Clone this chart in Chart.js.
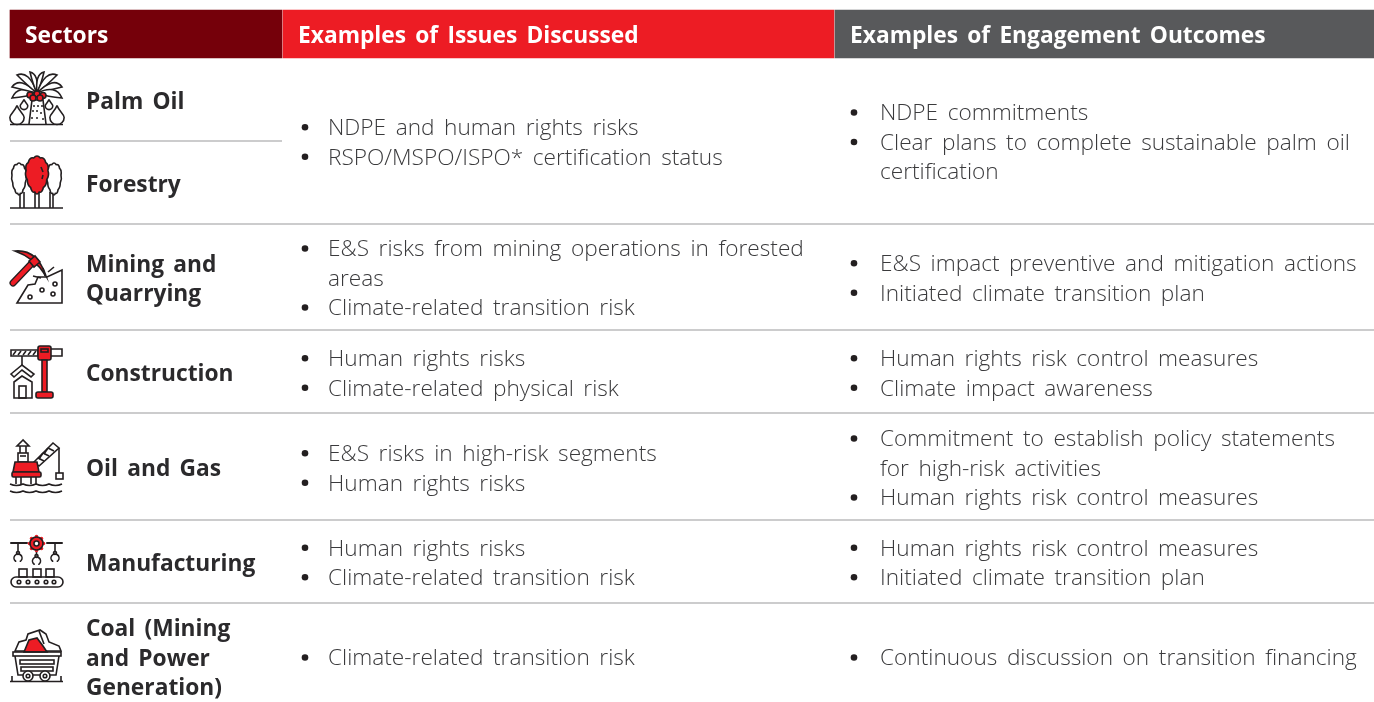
<!DOCTYPE html>
<html>
<head>
<meta charset="utf-8">
<style>
  html, body { margin: 0; padding: 0; background: #fff; }
  #tableChart { display: block; }
</style>
<script src="https://cdn.jsdelivr.net/npm/chart.js@4"></script>
</head>
<body>
<canvas id="tableChart" width="1374" height="702"></canvas>
<script>
// Table content
const headers = ['Sectors', 'Examples of Issues Discussed', 'Examples of Engagement Outcomes'];
const sectors = ['Palm Oil', 'Forestry', 'Mining and\nQuarrying', 'Construction', 'Oil and Gas', 'Manufacturing', 'Coal (Mining\nand Power\nGeneration)'];
const issues = [
  ['NDPE and human rights risks', 'RSPO/MSPO/ISPO* certification status'],
  ['E&S risks from mining operations in forested\nareas', 'Climate-related transition risk'],
  ['Human rights risks', 'Climate-related physical risk'],
  ['E&S risks in high-risk segments', 'Human rights risks'],
  ['Human rights risks', 'Climate-related transition risk'],
  ['Climate-related transition risk']
];
const outcomes = [
  ['NDPE commitments', 'Clear plans to complete sustainable palm oil\ncertification'],
  ['E&S impact preventive and mitigation actions', 'Initiated climate transition plan'],
  ['Human rights risk control measures', 'Climate impact awareness'],
  ['Commitment to establish policy statements\nfor high-risk activities', 'Human rights risk control measures'],
  ['Human rights risk control measures', 'Initiated climate transition plan'],
  ['Continuous discussion on transition financing']
];

// Layout of the table, in page pixels
const columnEdges = [10, 282, 834, 1374];
const headerBand = [10, 58];
const headerColors = ['#75000A', '#ED1C24', '#58595B'];
const ruleRows = [224, 330, 413, 520, 603];
const palmRule = 141;
const sectorCentres = [100, 183, 277.5, 372, 467, 562, 657];
const rowCentres = [141.5, 277.5, 372.5, 467.5, 562, 657];
const lineStep = 29.5;
const ink = '#231F20';
const red = '#ED1C24';

function pathOf(ctx, pts, close) {
  ctx.beginPath();
  pts.forEach((p, i) => i ? ctx.lineTo(p[0], p[1]) : ctx.moveTo(p[0], p[1]));
  if (close) ctx.closePath();
}
function disc(ctx, x, y, r, fill) {
  ctx.beginPath();
  ctx.arc(x, y, r, 0, Math.PI * 2);
  if (fill) { ctx.fillStyle = fill; ctx.fill(); }
  ctx.stroke();
}
function seg(ctx, x1, y1, x2, y2) {
  ctx.beginPath();
  ctx.moveTo(x1, y1);
  ctx.lineTo(x2, y2);
  ctx.stroke();
}
function drop(ctx, x, y, h) {
  const w = h * 0.42;
  ctx.beginPath();
  ctx.moveTo(x, y - h / 2);
  ctx.bezierCurveTo(x + w * 0.3, y - h * 0.15, x + w, y, x + w, y + h * 0.2);
  ctx.arc(x, y + h * 0.2, w, 0, Math.PI);
  ctx.bezierCurveTo(x - w, y, x - w * 0.3, y - h * 0.15, x, y - h / 2);
  ctx.fillStyle = '#fff';
  ctx.fill();
  ctx.stroke();
}
function crown(ctx, cx, top, bottom, halfW, fill) {
  // scalloped tree crown, wider towards the bottom
  const cy = (top + bottom) / 2;
  const halfH = (bottom - top) / 2;
  const bumps = 12;
  const at = (a, k) => {
    const widen = 0.82 + 0.18 * Math.cos(a);
    return [cx + Math.sin(a) * halfW * widen * k, cy - Math.cos(a) * halfH * k];
  };
  ctx.beginPath();
  for (let i = 0; i <= bumps; i++) {
    const a = i * Math.PI * 2 / bumps + Math.PI / bumps;
    const p = at(a, 0.93);
    if (i === 0) {
      ctx.moveTo(p[0], p[1]);
    } else {
      const c = at(a - Math.PI / bumps, 1.1);
      ctx.quadraticCurveTo(c[0], c[1], p[0], p[1]);
    }
  }
  ctx.closePath();
  ctx.fillStyle = fill;
  ctx.fill();
  ctx.stroke();
}

// Sector icons, drawn in page pixels
const iconDrawers = [
  function palm(ctx) {
    // tip x, tip y, upper control x, y, lower control x, y
    const leaves = [
      [12, 98, 18, 84, 26, 97], [12, 87, 20, 76, 24, 90], [17, 75, 29, 70, 28, 86],
      [30, 72, 39, 74, 33, 85], [44, 72, 35, 74, 41, 85], [57, 75, 45, 70, 46, 86],
      [62, 87, 54, 76, 50, 90], [62, 98, 56, 84, 48, 97]
    ];
    leaves.forEach(l => {
      ctx.beginPath();
      ctx.moveTo(37, 93);
      ctx.quadraticCurveTo(l[2], l[3], l[0], l[1]);
      ctx.quadraticCurveTo(l[4], l[5], 37, 93);
      ctx.closePath();
      ctx.fillStyle = '#fff';
      ctx.fill();
      ctx.stroke();
    });
    pathOf(ctx, [[29, 124], [32, 100], [43, 100], [46, 124]]);
    ctx.fillStyle = '#fff';
    ctx.fill();
    ctx.stroke();
    [[33, 106], [37, 106], [41, 106], [32, 111], [36, 111], [40, 113], [31, 118], [36, 118], [42, 119]].forEach(d => seg(ctx, d[0], d[1], d[0] + 2, d[1]));
    [[30, 95], [37, 94], [43, 95.5], [33, 98], [40, 98]].forEach(f => disc(ctx, f[0], f[1], 3, red));
    drop(ctx, 17, 114, 17);
    drop(ctx, 57, 114, 17);
    drop(ctx, 24, 104, 9);
    drop(ctx, 49, 104, 9);
    seg(ctx, 10, 124.5, 63, 124.5);
  },
  function forest(ctx) {
    [[20, 24], [35, 39], [50, 53]].forEach(t => {
      seg(ctx, t[0], 192, t[0], 208);
      seg(ctx, t[1], 192, t[1], 208);
    });
    crown(ctx, 19, 163, 195, 9, '#fff');
    crown(ctx, 54, 163, 195, 9, '#fff');
    crown(ctx, 37, 156, 194, 14, red);
    seg(ctx, 41, 167, 43, 172);
    seg(ctx, 43, 175, 42, 179);
    seg(ctx, 10, 208, 63, 208);
  },
  function pickaxe(ctx) {
    pathOf(ctx, [[17, 303], [28, 285], [35, 284], [38, 277], [47, 277], [62, 270], [62, 303]], true);
    ctx.stroke();
    [[30, 297], [42, 290], [53, 294], [55, 284]].forEach(c => disc(ctx, c[0], c[1], 2));
    seg(ctx, 33, 276, 41, 278);
    seg(ctx, 43, 268, 45, 276);
    seg(ctx, 48, 272, 54, 267);
    // handle and head
    ctx.lineCap = 'round';
    ctx.lineWidth = 7;
    seg(ctx, 13, 283, 34, 261);
    ctx.strokeStyle = red;
    ctx.lineWidth = 4.5;
    seg(ctx, 13, 283, 34, 261);
    ctx.lineCap = 'butt';
    ctx.strokeStyle = ink;
    ctx.lineWidth = 1.6;
    ctx.beginPath();
    ctx.moveTo(15, 251);
    ctx.quadraticCurveTo(37, 249, 46, 276);
    ctx.quadraticCurveTo(35, 258, 15, 251);
    ctx.closePath();
    ctx.fillStyle = red;
    ctx.fill();
    ctx.stroke();
    pathOf(ctx, [[29, 261], [35, 256], [40, 262], [34, 267]], true);
    ctx.fill();
    ctx.stroke();
  },
  function crane(ctx) {
    ctx.beginPath();
    ctx.rect(11, 350, 27, 6);
    ctx.rect(50, 349, 12, 7);
    ctx.stroke();
    for (let i = 13; i < 36; i += 5) seg(ctx, i, 355, i + 3, 351);
    ctx.fillStyle = red;
    ctx.beginPath();
    ctx.roundRect(38, 346, 13, 14, 2);
    ctx.fill();
    ctx.stroke();
    ctx.strokeRect(41, 349, 7, 3);
    ctx.beginPath();
    ctx.rect(42, 360, 5, 32);
    ctx.fill();
    ctx.stroke();
    ctx.beginPath();
    ctx.roundRect(36, 392, 17, 6, 2);
    ctx.fill();
    ctx.stroke();
    seg(ctx, 22, 356, 22, 365);
    pathOf(ctx, [[11, 374], [22, 365], [34, 374], [31, 377], [22, 370], [14, 377]], true);
    ctx.stroke();
    pathOf(ctx, [[14, 382], [22, 376], [32, 382], [32, 398], [14, 398]], true);
    ctx.stroke();
    ctx.strokeRect(19, 386, 7, 12);
  },
  function oilRig(ctx) {
    // boom
    pathOf(ctx, [[34, 462], [53, 443], [59, 448], [39, 466]], true);
    ctx.stroke();
    seg(ctx, 38, 458, 44, 461);
    seg(ctx, 43, 453, 49, 456);
    seg(ctx, 48, 448, 54, 451);
    seg(ctx, 39, 459, 43, 453);
    seg(ctx, 44, 454, 48, 448);
    seg(ctx, 59, 448, 59, 473);
    ctx.strokeRect(56, 473, 7, 6);
    // derrick
    pathOf(ctx, [[23, 440], [17, 446], [29, 446]], true);
    ctx.stroke();
    seg(ctx, 20, 446, 20, 453);
    seg(ctx, 26, 446, 26, 453);
    ctx.strokeRect(18, 453, 10, 9);
    seg(ctx, 20, 456, 26, 456);
    // platform
    pathOf(ctx, [[15, 462], [37, 462], [39, 472], [13, 472]], true);
    ctx.fillStyle = red;
    ctx.fill();
    ctx.stroke();
    ctx.beginPath();
    ctx.roundRect(12, 472, 29, 5, 1.5);
    ctx.fill();
    ctx.stroke();
    [16, 21, 31, 36].forEach(x => seg(ctx, x, 477, x, 484));
    [484, 491].forEach(y => {
      ctx.beginPath();
      ctx.moveTo(10, y);
      for (let i = 10; i < 62; i += 13) ctx.quadraticCurveTo(i + 6.5, y + 3, i + 13, y);
      ctx.stroke();
    });
  },
  function factory(ctx) {
    ctx.lineCap = 'round';
    ctx.lineWidth = 2;
    seg(ctx, 11, 543, 27, 543);
    seg(ctx, 47, 543, 62, 543);
    ctx.lineWidth = 1.6;
    seg(ctx, 18, 543, 18, 552);
    seg(ctx, 55, 543, 55, 552);
    seg(ctx, 36.5, 551, 36.5, 555);
    // claws, open side down
    [[18, 558], [36.5, 561], [55, 558]].forEach(c => {
      ctx.beginPath();
      ctx.arc(c[0], c[1], 4, Math.PI * 0.7, Math.PI * 2.3, false);
      ctx.stroke();
      disc(ctx, c[0], c[1] - 5, 1.5);
    });
    ctx.lineCap = 'butt';
    // gear
    ctx.fillStyle = red;
    for (let a = 0; a < 8; a++) {
      const t = a * Math.PI / 4;
      ctx.beginPath();
      ctx.arc(36.5 + Math.cos(t) * 7, 543.5 + Math.sin(t) * 7, 1.8, 0, Math.PI * 2);
      ctx.fill();
    }
    disc(ctx, 36.5, 543.5, 6.5, red);
    ctx.fillStyle = '#fff';
    disc(ctx, 36.5, 543.5, 2.5, '#fff');
    [[19, 569], [33, 569], [46, 569]].forEach(b => ctx.strokeRect(b[0], b[1], 8, 8));
    ctx.beginPath();
    ctx.roundRect(11, 577, 52, 10, 5);
    ctx.stroke();
    [19, 28, 37, 46, 54].forEach(x => disc(ctx, x, 582, 1.8));
  },
  function coalCart(ctx) {
    pathOf(ctx, [[15, 651], [19, 642], [26, 640], [28, 634], [40, 630], [46, 634], [49, 642], [59, 646], [61, 651]], true);
    ctx.fillStyle = '#fff';
    ctx.stroke();
    seg(ctx, 39, 631, 44, 644);
    pathOf(ctx, [[24, 652], [29, 640], [37, 638], [43, 646], [47, 652]], true);
    ctx.fillStyle = red;
    ctx.fill();
    ctx.stroke();
    ctx.strokeRect(13, 652, 48, 4);
    pathOf(ctx, [[15, 656], [18, 675], [56, 675], [59, 656]]);
    ctx.stroke();
    ctx.strokeRect(20, 660, 34, 4);
    ctx.strokeRect(21, 667, 32, 4);
    [28, 45].forEach(x => {
      disc(ctx, x, 676, 5, '#fff');
      disc(ctx, x, 676, 1.8);
    });
    seg(ctx, 10, 681.5, 63, 681.5);
    seg(ctx, 12, 676, 12, 681);
    seg(ctx, 61, 676, 61, 681);
  }
];

const bodyFont = '300 22.65px "Open Sans"';
const boldFont = '700 22.75px "Open Sans"';
const bodyNudge = 2;
const boldNudge = 2.5;

function drawLines(ctx, lines, x, centre) {
  const top = centre - (lines.length - 1) * lineStep / 2;
  lines.forEach((line, i) => ctx.fillText(line, x, top + i * lineStep + boldNudge));
}

function drawBulletColumn(ctx, rows, bulletX, textX, yScale) {
  ctx.font = bodyFont;
  ctx.wordSpacing = '3.7px';
  ctx.fillStyle = '#3A3A3C';
  rows.forEach((items, r) => {
    const total = items.reduce((n, item) => n + item.split('\n').length, 0);
    let y = yScale.getPixelForValue(rowCentres[r]) - (total - 1) * lineStep / 2;
    items.forEach(item => {
      ctx.save();
      ctx.fillStyle = ink;
      ctx.beginPath();
      ctx.arc(bulletX, y + 0.5, 3.3, 0, Math.PI * 2);
      ctx.fill();
      ctx.restore();
      item.split('\n').forEach(line => {
        ctx.fillText(line, textX, y + bodyNudge);
        y += lineStep;
      });
    });
  });
}

// Text and icons go on top of the bands and rules
const tablePlugin = {
  id: 'tablePlugin',
  afterDatasetsDraw(chart) {
    const ctx = chart.ctx;
    const x = chart.scales.x;
    const y = chart.scales.y;
    ctx.save();
    ctx.textBaseline = 'middle';
    ctx.wordSpacing = '3.3px';

    ctx.font = boldFont;
    ctx.fillStyle = '#fff';
    const headerY = y.getPixelForValue((headerBand[0] + headerBand[1]) / 2) + boldNudge;
    headers.forEach((h, i) => ctx.fillText(h, x.getPixelForValue(columnEdges[i] + (i ? 16 : 15)), headerY));

    ctx.fillStyle = '#2B2A2C';
    sectors.forEach((s, i) => drawLines(ctx, s.split('\n'), x.getPixelForValue(86), y.getPixelForValue(sectorCentres[i])));

    drawBulletColumn(ctx, issues, 305, 328, y);
    drawBulletColumn(ctx, outcomes, 854, 880, y);

    ctx.strokeStyle = ink;
    ctx.lineWidth = 1.6;
    iconDrawers.forEach(draw => {
      ctx.save();
      draw(ctx);
      ctx.restore();
    });
    ctx.restore();
  }
};

function ruleDataset(y, xEnd) {
  return {
    type: 'line',
    data: [{ x: columnEdges[0], y: y }, { x: xEnd, y: y }],
    borderColor: '#9A9A9C',
    borderWidth: 1.2,
    pointRadius: 0
  };
}

document.addEventListener('DOMContentLoaded', function () {
  const ctx = document.getElementById('tableChart').getContext('2d');
  const bandData = headers.map((h, i) => ({
    x: [columnEdges[i] + (i ? 1 : 0), columnEdges[i + 1]],
    y: (headerBand[0] + headerBand[1]) / 2
  }));
  new Chart(ctx, {
    data: {
      datasets: [
        {
          type: 'bar',
          data: bandData,
          backgroundColor: headerColors,
          barThickness: headerBand[1] - headerBand[0],
          grouped: false
        },
        ...ruleRows.map(r => ruleDataset(r, columnEdges[3])),
        ruleDataset(palmRule, columnEdges[1])
      ]
    },
    options: {
      indexAxis: 'y',
      responsive: false,
      animation: false,
      parsing: { xAxisKey: 'x', yAxisKey: 'y' },
      layout: { padding: 0 },
      plugins: { legend: { display: false }, tooltip: { enabled: false }, title: { display: false } },
      scales: {
        x: { type: 'linear', display: false, min: 0, max: 1374 },
        y: { type: 'linear', display: false, min: 0, max: 702, reverse: true, offset: false, grid: { offset: false } }
      }
    },
    plugins: [tablePlugin]
  });
});
</script>
</body>
</html>
